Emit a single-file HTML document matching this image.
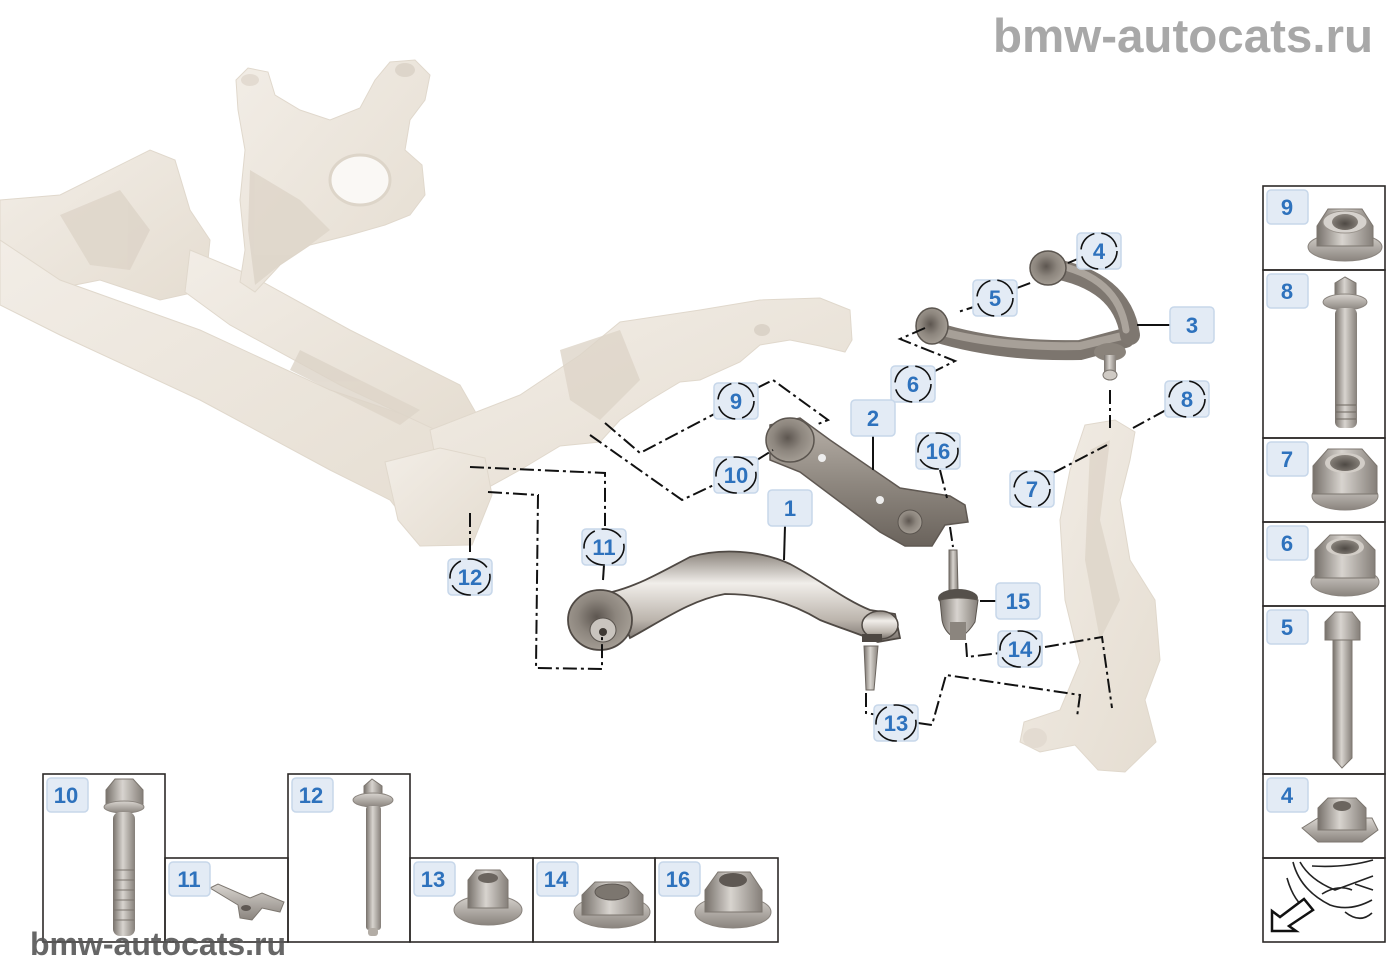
<!DOCTYPE html>
<html><head><meta charset="utf-8">
<style>html,body{margin:0;padding:0;background:#fff}svg{display:block}</style>
</head><body>
<svg width="1400" height="980" viewBox="0 0 1400 980" xmlns="http://www.w3.org/2000/svg">
<defs>
<linearGradient id="met" x1="0" y1="0" x2="1" y2="0">
<stop offset="0" stop-color="#77716b"/><stop offset=".45" stop-color="#d8d4cf"/><stop offset="1" stop-color="#857f79"/></linearGradient>
<linearGradient id="metv" x1="0" y1="0" x2="0" y2="1">
<stop offset="0" stop-color="#d9d5d0"/><stop offset="1" stop-color="#8a847e"/></linearGradient>
<linearGradient id="arm" x1="0" y1="0" x2="0" y2="1">
<stop offset="0" stop-color="#b9b2aa"/><stop offset=".5" stop-color="#8f8880"/><stop offset="1" stop-color="#6a635c"/></linearGradient>
<linearGradient id="arm1" x1="0" y1="0" x2="0" y2="1">
<stop offset="0" stop-color="#8a837b"/><stop offset=".35" stop-color="#f1eeea"/><stop offset=".75" stop-color="#bdb6ae"/><stop offset="1" stop-color="#77706a"/></linearGradient>
<radialGradient id="bush" cx=".45" cy=".45" r=".6">
<stop offset="0" stop-color="#5d5650"/><stop offset=".5" stop-color="#8d867e"/><stop offset="1" stop-color="#a8a198"/></radialGradient>
<radialGradient id="hole" cx=".5" cy=".6" r=".6">
<stop offset="0" stop-color="#4e4944"/><stop offset="1" stop-color="#8c867f"/></radialGradient>
<linearGradient id="beige" x1="0" y1="0" x2="1" y2="1">
<stop offset="0" stop-color="#f2ede6"/><stop offset="1" stop-color="#e5ddd1"/></linearGradient>
</defs>

<!-- watermark top -->
<text x="993" y="52" font-family="Liberation Sans, Arial, sans-serif" font-weight="bold" font-size="47.5" fill="#a8a8a8">bmw-autocats.ru</text>

<!-- ================= SUBFRAME (beige) ================= -->
<g fill="url(#beige)" stroke="#e0d8cc" stroke-width="1">
<polygon points="0,200 60,195 150,150 175,160 190,210 210,240 205,290 160,300 100,280 0,300"/>
<polygon points="0,240 60,280 200,330 330,390 450,430 480,470 470,545 425,545 390,500 330,470 200,400 60,335 0,305"/>
<polygon points="190,250 250,275 350,330 460,385 480,420 440,432 340,385 230,325 185,292"/>
<polygon points="236,80 248,68 268,72 275,95 300,110 330,120 360,108 375,80 390,62 415,60 430,75 425,100 410,120 405,150 422,165 425,195 410,215 385,225 350,235 310,245 280,265 255,292 240,282 245,250 240,200 245,150 238,110"/>
<polygon points="430,430 520,395 580,355 620,322 700,310 760,300 820,298 850,310 852,340 845,352 820,346 790,340 760,345 740,362 700,380 680,382 650,400 620,420 600,442 560,446 520,470 480,492 440,482"/>
<polygon points="385,462 440,448 485,458 492,495 472,545 420,546 398,520"/>
<polygon points="1085,425 1115,420 1135,432 1130,460 1120,500 1130,560 1155,600 1160,660 1145,700 1156,742 1125,772 1098,770 1075,745 1040,752 1020,742 1024,722 1060,710 1080,662 1065,600 1060,520 1070,470"/>
</g>
<g fill="#ddd4c8" opacity=".8">
<polygon points="250,170 300,200 330,230 310,245 280,265 255,285 248,230"/>
<polygon points="60,215 120,190 150,230 130,270 90,265"/>
<polygon points="560,350 620,330 640,380 600,420 570,400"/>
<polygon points="1090,450 1110,440 1100,520 1120,600 1100,640 1085,560"/>
<polygon points="300,350 420,410 400,425 290,370"/>
</g>
<ellipse cx="360" cy="180" rx="30" ry="25" fill="#faf8f5" stroke="#ddd5c9" stroke-width="3"/>
<ellipse cx="405" cy="70" rx="10" ry="7" fill="#ddd5ca"/>
<ellipse cx="250" cy="80" rx="9" ry="6" fill="#e3dbd1"/>
<ellipse cx="762" cy="330" rx="8" ry="6" fill="#dbd3c8"/>
<ellipse cx="1035" cy="738" rx="12" ry="10" fill="#e3dbd1"/>

<!-- ================= ARM 3 (upper wishbone) ================= -->
<g fill="none" stroke-linecap="round">
<path d="M935,332 Q1000,352 1080,350 L1125,338" stroke="#7c756e" stroke-width="20"/>
<path d="M935,330 Q1000,348 1080,346 L1122,336" stroke="#a7a098" stroke-width="8"/>
<path d="M1050,268 Q1122,280 1130,335" stroke="#7e7770" stroke-width="20"/>
<path d="M1052,264 Q1118,276 1126,330" stroke="#aba49c" stroke-width="7"/>
</g>
<ellipse cx="932" cy="326" rx="16" ry="18" fill="url(#bush)" stroke="#5b554f" stroke-width="1.5"/>
<ellipse cx="1048" cy="268" rx="18" ry="17" fill="url(#bush)" stroke="#5b554f" stroke-width="1.5"/>
<ellipse cx="1110" cy="352" rx="16" ry="9" fill="#8a837b"/>
<rect x="1104" y="355" width="12" height="18" fill="url(#met)"/>
<ellipse cx="1110" cy="375" rx="7" ry="5" fill="#cfcac4" stroke="#7a746e"/>

<!-- ================= ARM 2 (strut) ================= -->
<polygon points="770,425 800,418 830,440 900,488 950,496 965,505 968,522 945,525 932,546 905,546 880,532 800,472 770,460" fill="url(#arm)" stroke="#5f5852" stroke-width="1.5"/>
<ellipse cx="790" cy="440" rx="24" ry="22" fill="url(#bush)" stroke="#5b554f" stroke-width="1.5"/>
<circle cx="822" cy="458" r="4" fill="#eee"/>
<circle cx="880" cy="500" r="4" fill="#eee"/>
<ellipse cx="910" cy="522" rx="12" ry="12" fill="url(#bush)" stroke="#5b554f"/>

<!-- ================= ARM 1 (lower) ================= -->
<path d="M612,592 C640,585 665,570 690,557 C720,548 760,550 790,564 C820,580 845,600 870,610 L895,614 L900,638 L878,642 C860,634 840,628 820,620 C790,602 760,594 725,594 C690,600 660,622 630,638 Z" fill="url(#arm1)" stroke="#4f4944" stroke-width="1.8"/>
<ellipse cx="600" cy="620" rx="32" ry="30" fill="url(#bush)" stroke="#4f4944" stroke-width="1.8"/>
<ellipse cx="603" cy="630" rx="13" ry="12" fill="#c9c4be" stroke="#5a544e"/>
<circle cx="603" cy="632" r="4" fill="#3e3934"/>
<ellipse cx="880" cy="625" rx="18" ry="14" fill="url(#arm1)" stroke="#4f4944" stroke-width="1.5"/>
<rect x="862" y="634" width="20" height="8" fill="#4d4742"/>
<polygon points="864,646 878,646 874,690 866,690" fill="url(#met)" stroke="#6b655f"/>

<!-- ================= LINK 15 ================= -->
<polygon points="949,550 957,550 958,590 949,590" fill="url(#met)" stroke="#6b655f"/>
<ellipse cx="958" cy="598" rx="20" ry="9" fill="#55504b"/>
<path d="M940,600 Q958,596 978,600 L975,622 Q965,638 955,638 Q944,632 942,620 Z" fill="url(#met)" stroke="#5b554f"/>
<rect x="950" y="622" width="16" height="18" fill="#8b857e"/>

<!-- ================= CONNECTORS ================= -->
<g fill="none" stroke="#111" stroke-width="2" stroke-dasharray="14,4,3,4">
<polyline points="1068,263 1080,258"/>
<polyline points="1017,288 1033,282"/>
<polyline points="980,305 958,312"/>
<polyline points="925,328 900,339 955,361 933,372"/>
<polyline points="1166,410 1133,428"/>
<polyline points="1053,473 1107,445"/>
<polyline points="940,470 947,498"/>
<polyline points="950,527 953,547"/>
<polyline points="966,643 967,657 1000,653"/>
<polyline points="1045,647 1102,637 1112,708"/>
<polyline points="866,693 866,713 878,715"/>
<polyline points="918,723 932,725 946,675 1080,695 1077,717"/>
<polyline points="757,388 773,380 828,420 818,424"/>
<polyline points="722,410 640,453 605,423"/>
<polyline points="590,435 682,500 718,483"/>
<polyline points="757,460 773,450"/>
<polyline points="470,467 605,473 605,526"/>
<polyline points="470,513 470,555"/>
<polyline points="488,492 538,495 536,668 602,669 602,637"/>
<polyline points="1110,390 1110,428"/>
</g>
<g stroke="#111" stroke-width="2">
<line x1="1137" y1="325" x2="1170" y2="325"/>
<line x1="873" y1="436" x2="873" y2="470"/>
<line x1="980" y1="601" x2="996" y2="601"/>
<line x1="785" y1="526" x2="784" y2="560"/>
<line x1="604" y1="565" x2="603" y2="580"/>
</g>

<!-- ================= LABELS (main) ================= -->
<g fill="#e3ebf5" stroke="#c7d7ea" stroke-width="1.5">
<rect x="1077" y="233" width="44" height="36" rx="4"/>
<rect x="973" y="280" width="44" height="36" rx="4"/>
<rect x="1170" y="307" width="44" height="36" rx="4"/>
<rect x="891" y="366" width="44" height="36" rx="4"/>
<rect x="714" y="383" width="44" height="36" rx="4"/>
<rect x="851" y="400" width="44" height="36" rx="4"/>
<rect x="1165" y="381" width="44" height="36" rx="4"/>
<rect x="916" y="433" width="44" height="36" rx="4"/>
<rect x="714" y="457" width="44" height="36" rx="4"/>
<rect x="1010" y="471" width="44" height="36" rx="4"/>
<rect x="768" y="490" width="44" height="36" rx="4"/>
<rect x="582" y="529" width="44" height="36" rx="4"/>
<rect x="448" y="559" width="44" height="36" rx="4"/>
<rect x="996" y="583" width="44" height="36" rx="4"/>
<rect x="998" y="631" width="44" height="36" rx="4"/>
<rect x="874" y="705" width="44" height="36" rx="4"/>
</g>
<g fill="none" stroke="#111" stroke-width="1.6" stroke-dasharray="22,7">
<ellipse cx="1099" cy="251" rx="18" ry="18"/>
<ellipse cx="995" cy="298" rx="18" ry="18"/>
<ellipse cx="913" cy="384" rx="18" ry="18"/>
<ellipse cx="736" cy="401" rx="18" ry="18"/>
<ellipse cx="1187" cy="399" rx="18" ry="18"/>
<ellipse cx="938" cy="451" rx="20" ry="18"/>
<ellipse cx="736" cy="475" rx="20" ry="18"/>
<ellipse cx="1032" cy="489" rx="18" ry="18"/>
<ellipse cx="604" cy="547" rx="20" ry="18"/>
<ellipse cx="470" cy="577" rx="20" ry="18"/>
<ellipse cx="1020" cy="649" rx="20" ry="18"/>
<ellipse cx="896" cy="723" rx="20" ry="18"/>
</g>
<g font-family="Liberation Sans, Arial, sans-serif" font-weight="bold" font-size="22" fill="#2e72bd" text-anchor="middle">
<text x="1099" y="259">4</text>
<text x="995" y="306">5</text>
<text x="1192" y="333">3</text>
<text x="913" y="392">6</text>
<text x="736" y="409">9</text>
<text x="873" y="426">2</text>
<text x="1187" y="407">8</text>
<text x="938" y="459">16</text>
<text x="736" y="483">10</text>
<text x="1032" y="497">7</text>
<text x="790" y="516">1</text>
<text x="604" y="555">11</text>
<text x="470" y="585">12</text>
<text x="1018" y="609">15</text>
<text x="1020" y="657">14</text>
<text x="896" y="731">13</text>
</g>

<!-- ================= RIGHT COLUMN BOXES ================= -->
<g fill="none" stroke="#2d2a28" stroke-width="1.6">
<rect x="1263" y="186" width="122" height="84"/>
<rect x="1263" y="270" width="122" height="168"/>
<rect x="1263" y="438" width="122" height="84"/>
<rect x="1263" y="522" width="122" height="84"/>
<rect x="1263" y="606" width="122" height="168"/>
<rect x="1263" y="774" width="122" height="84"/>
<rect x="1263" y="858" width="122" height="84"/>
</g>

<!-- 9 nut -->
<ellipse cx="1345" cy="247" rx="37" ry="14" fill="url(#metv)" stroke="#8a847e"/>
<polygon points="1317,226 1328,209 1362,209 1373,226 1373,246 1317,246" fill="url(#met)" stroke="#7c766f"/>
<ellipse cx="1345" cy="222" rx="22" ry="11" fill="#d6d2cd" stroke="#9a948d"/>
<ellipse cx="1345" cy="222" rx="13" ry="8" fill="url(#hole)"/>
<!-- 8 bolt -->
<polygon points="1335,283 1345,277 1356,283 1356,300 1335,300" fill="url(#met)" stroke="#7c766f"/>
<ellipse cx="1345" cy="302" rx="22" ry="8" fill="url(#metv)" stroke="#8a847e"/>
<rect x="1335" y="308" width="22" height="120" rx="6" fill="url(#met)"/>
<g stroke="#6d675f" stroke-width="1"><line x1="1336" y1="405" x2="1356" y2="405"/><line x1="1336" y1="412" x2="1356" y2="412"/><line x1="1336" y1="419" x2="1356" y2="419"/></g>
<!-- 7 nut -->
<ellipse cx="1345" cy="496" rx="33" ry="14" fill="url(#metv)" stroke="#8a847e"/>
<polygon points="1313,466 1328,449 1362,449 1377,466 1377,494 1313,494" fill="url(#met)" stroke="#7c766f"/>
<ellipse cx="1345" cy="463" rx="20" ry="10" fill="#d2cdc7"/>
<ellipse cx="1345" cy="463" rx="15" ry="8" fill="url(#hole)"/>
<!-- 6 nut -->
<ellipse cx="1345" cy="582" rx="34" ry="14" fill="url(#metv)" stroke="#8a847e"/>
<polygon points="1315,550 1330,535 1360,535 1375,550 1375,578 1315,578" fill="url(#met)" stroke="#7c766f"/>
<ellipse cx="1345" cy="547" rx="19" ry="9" fill="#d2cdc7"/>
<ellipse cx="1345" cy="547" rx="14" ry="7" fill="url(#hole)"/>
<!-- 5 bolt -->
<polygon points="1325,622 1335,612 1352,612 1360,622 1360,640 1325,640" fill="url(#met)" stroke="#7c766f"/>
<polygon points="1333,640 1352,640 1352,758 1342,768 1333,758" fill="url(#met)" stroke="#7c766f"/>
<!-- 4 cage nut -->
<polygon points="1302,828 1318,818 1372,818 1378,830 1362,842 1318,842" fill="url(#metv)" stroke="#7c766f"/>
<polygon points="1318,808 1328,798 1356,798 1366,808 1366,830 1318,830" fill="url(#met)" stroke="#7c766f"/>
<ellipse cx="1342" cy="806" rx="9" ry="5" fill="#6b655f"/>
<!-- car icon -->
<g fill="none" stroke="#222" stroke-width="1.6">
<path d="M1293,862 Q1300,890 1330,905 Q1350,912 1372,900"/>
<path d="M1300,862 Q1310,880 1335,890 L1373,876"/>
<path d="M1312,866 Q1345,868 1373,860"/>
<path d="M1322,894 Q1338,884 1352,890"/>
<path d="M1345,912 Q1360,924 1372,913"/>
<path d="M1287,878 Q1292,896 1302,906"/>
<path d="M1355,884 L1373,890"/>
</g>
<polygon points="1272,931 1272,911 1280,917 1304,899 1313,910 1289,926 1296,931" fill="#fff" stroke="#111" stroke-width="2.5" stroke-linejoin="miter"/>

<!-- right column labels -->
<g fill="#e3ebf5" stroke="#c7d7ea" stroke-width="1.5">
<rect x="1267" y="190" width="41" height="34" rx="4"/>
<rect x="1267" y="274" width="41" height="34" rx="4"/>
<rect x="1267" y="442" width="41" height="34" rx="4"/>
<rect x="1267" y="526" width="41" height="34" rx="4"/>
<rect x="1267" y="610" width="41" height="34" rx="4"/>
<rect x="1267" y="778" width="41" height="34" rx="4"/>
</g>
<g font-family="Liberation Sans, Arial, sans-serif" font-weight="bold" font-size="22" fill="#2e72bd" text-anchor="middle">
<text x="1287" y="215">9</text>
<text x="1287" y="299">8</text>
<text x="1287" y="467">7</text>
<text x="1287" y="551">6</text>
<text x="1287" y="635">5</text>
<text x="1287" y="803">4</text>
</g>

<!-- ================= BOTTOM ROW BOXES ================= -->
<g fill="none" stroke="#2d2a28" stroke-width="1.6">
<rect x="43" y="774" width="122" height="168"/>
<rect x="165" y="858" width="123" height="84"/>
<rect x="288" y="774" width="122" height="168"/>
<rect x="410" y="858" width="123" height="84"/>
<rect x="533" y="858" width="122" height="84"/>
<rect x="655" y="858" width="123" height="84"/>
</g>
<!-- 10 bolt -->
<polygon points="106,790 115,779 133,779 143,790 143,804 106,804" fill="url(#met)" stroke="#7c766f"/>
<ellipse cx="124" cy="807" rx="20" ry="6" fill="url(#metv)" stroke="#8a847e"/>
<rect x="113" y="812" width="22" height="124" rx="7" fill="url(#met)"/>
<g stroke="#7a746d" stroke-width="1"><line x1="114" y1="870" x2="134" y2="870"/><line x1="114" y1="880" x2="134" y2="880"/><line x1="114" y1="890" x2="134" y2="890"/><line x1="114" y1="900" x2="134" y2="900"/><line x1="114" y1="910" x2="134" y2="910"/><line x1="114" y1="920" x2="134" y2="920"/></g>
<!-- 11 bracket -->
<polygon points="210,888 218,884 250,898 262,893 284,902 280,912 262,908 252,920 240,918 238,905" fill="url(#metv)" stroke="#7c766f"/>
<ellipse cx="246" cy="908" rx="5" ry="3" fill="#5e5853"/>
<!-- 12 bolt -->
<polygon points="364,786 372,779 382,786 382,796 364,796" fill="url(#met)" stroke="#7c766f"/>
<ellipse cx="373" cy="800" rx="20" ry="7" fill="url(#metv)" stroke="#8a847e"/>
<rect x="366" y="806" width="15" height="124" rx="3" fill="url(#met)"/>
<rect x="368" y="928" width="10" height="8" rx="3" fill="#b3ada6"/>
<!-- 13 nut -->
<ellipse cx="488" cy="910" rx="34" ry="15" fill="url(#metv)" stroke="#8a847e"/>
<polygon points="468,880 476,870 500,870 508,880 508,908 468,908" fill="url(#met)" stroke="#7c766f"/>
<ellipse cx="488" cy="878" rx="10" ry="5" fill="#6b655f"/>
<!-- 14 nut -->
<ellipse cx="612" cy="912" rx="38" ry="16" fill="url(#metv)" stroke="#8a847e"/>
<polygon points="582,895 595,882 630,882 643,895 643,915 582,915" fill="url(#met)" stroke="#7c766f"/>
<ellipse cx="612" cy="892" rx="17" ry="8" fill="#7c766f" stroke="#5e5853"/>
<!-- 16 nut -->
<ellipse cx="733" cy="912" rx="38" ry="16" fill="url(#metv)" stroke="#8a847e"/>
<polygon points="705,890 718,872 750,872 762,890 762,912 705,912" fill="url(#met)" stroke="#7c766f"/>
<ellipse cx="733" cy="880" rx="14" ry="7" fill="#5e5853"/>

<g fill="#e3ebf5" stroke="#c7d7ea" stroke-width="1.5">
<rect x="47" y="778" width="41" height="34" rx="4"/>
<rect x="169" y="862" width="41" height="34" rx="4"/>
<rect x="292" y="778" width="41" height="34" rx="4"/>
<rect x="414" y="862" width="41" height="34" rx="4"/>
<rect x="537" y="862" width="41" height="34" rx="4"/>
<rect x="659" y="862" width="41" height="34" rx="4"/>
</g>
<g font-family="Liberation Sans, Arial, sans-serif" font-weight="bold" font-size="22" fill="#2e72bd" text-anchor="middle">
<text x="66" y="803">10</text>
<text x="189" y="887">11</text>
<text x="311" y="803">12</text>
<text x="433" y="887">13</text>
<text x="556" y="887">14</text>
<text x="678" y="887">16</text>
</g>

<!-- watermark bottom -->
<text x="30" y="955" font-family="Liberation Sans, Arial, sans-serif" font-weight="bold" font-size="32" fill="#555" fill-opacity=".9">bmw-autocats.ru</text>
</svg>
</body></html>
